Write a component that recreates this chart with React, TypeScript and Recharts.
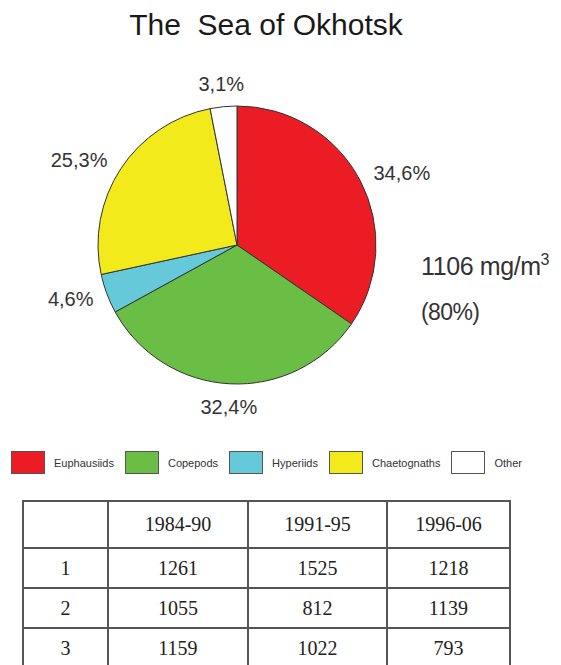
import React from 'react';
import { PieChart, Pie, Cell, Legend } from 'recharts';

const groups = ['Euphausiids', 'Copepods', 'Hyperiids', 'Chaetognaths', 'Other'];
const shares = [34.6, 32.4, 4.6, 25.3, 3.1];
const colors = ['#EC1C24', '#6ABD45', '#66C9D9', '#F2EA1A', '#FFFFFF'];

const periods = ['1984-90', '1991-95', '1996-06'];
const rowLabels = ['1', '2', '3'];
const row1 = [1261, 1525, 1218];
const row2 = [1055, 812, 1139];
const row3 = [1159, 1022, 793];
const tableRows = [row1, row2, row3];

const data = groups.map((name, i) => ({ name, value: shares[i] }));

const RAD = Math.PI / 180;
const renderLabel = (props: any) => {
  const { cx, cy, midAngle, outerRadius, value } = props;
  const s = Math.sin(-midAngle * RAD);
  const c = Math.cos(-midAngle * RAD);
  const r = outerRadius + 13 + 10 * s * s;
  const x = cx + r * c;
  const y = cy + r * s;
  const anchor = c > 0.3 ? 'start' : c < -0.3 ? 'end' : 'middle';
  return (
    <text x={x} y={y} textAnchor={anchor} dominantBaseline="central" fill="#333" fontSize={20} fontFamily="Liberation Sans, Arial, sans-serif">
      {value.toFixed(1).replace('.', ',') + '%'}
    </text>
  );
};

const renderLegend = () => (
  <div style={{ display: 'flex', alignItems: 'center', fontFamily: 'Liberation Sans, Arial, sans-serif', fontSize: 11, color: '#333' }}>
    {groups.map((g, i) => (
      <div key={g} style={{ display: 'flex', alignItems: 'center', marginRight: 11 }}>
        <div style={{ width: 32, height: 21, background: colors[i], border: '1px solid #555', marginRight: 9 }} />
        <span>{g}</span>
      </div>
    ))}
  </div>
);

const cellBorder = '2px solid #555';

export default function App() {
  return (
    <div style={{ position: 'absolute', left: 0, top: 0, width: 561, height: 665, background: '#fff', overflow: 'hidden' }}>
      <PieChart width={561} height={490} margin={{ top: 0, right: 0, bottom: 0, left: 0 }}>
        <text x={266} y={35} textAnchor="middle" fontSize={30} fill="#1a1a1a" fontFamily="Liberation Sans, Arial, sans-serif" style={{ whiteSpace: 'pre' }}>
          {'The  Sea of Okhotsk'}
        </text>
        <text x={421} y={275} fontSize={25} fill="#333" fontFamily="Liberation Sans, Arial, sans-serif" letterSpacing={-0.4}>
          1106 mg/m<tspan fontSize={16} dy={-10}>3</tspan>
        </text>
        <text x={421} y={320} fontSize={23} fill="#333" fontFamily="Liberation Sans, Arial, sans-serif" letterSpacing={-0.6}>
          (80%)
        </text>
        <Pie
          data={data}
          dataKey="value"
          nameKey="name"
          cx={237}
          cy={245}
          outerRadius={139}
          startAngle={90}
          endAngle={-270}
          stroke="#333"
          strokeWidth={1}
          label={renderLabel}
          labelLine={false}
          isAnimationActive={false}
        >
          {data.map((d, i) => (
            <Cell key={d.name} fill={colors[i]} />
          ))}
        </Pie>
        <Legend
          layout="horizontal"
          verticalAlign="middle"
          align="center"
          content={renderLegend}
          wrapperStyle={{ position: 'absolute', top: 451, left: 11, width: 550 }}
        />
      </PieChart>
      <table
        style={{
          position: 'absolute',
          left: 22,
          top: 500,
          borderCollapse: 'collapse',
          fontFamily: 'Liberation Serif, Times New Roman, serif',
          fontSize: 20,
          color: '#222',
          tableLayout: 'fixed',
        }}
      >
        <colgroup>
          <col style={{ width: 85 }} />
          <col style={{ width: 140 }} />
          <col style={{ width: 139 }} />
          <col style={{ width: 123 }} />
        </colgroup>
        <tbody>
          <tr style={{ height: 47 }}>
            <td style={{ border: cellBorder, padding: 0 }} />
            {periods.map((p) => (
              <td key={p} style={{ border: cellBorder, textAlign: 'center', padding: 0 }}>{p}</td>
            ))}
          </tr>
          {tableRows.map((row, ri) => (
            <tr key={ri} style={{ height: 40 }}>
              <td style={{ border: cellBorder, textAlign: 'center', padding: 0 }}>{rowLabels[ri]}</td>
              {row.map((v, ci) => (
                <td key={ci} style={{ border: cellBorder, textAlign: 'center', padding: 0 }}>{v}</td>
              ))}
            </tr>
          ))}
        </tbody>
      </table>
    </div>
  );
}
